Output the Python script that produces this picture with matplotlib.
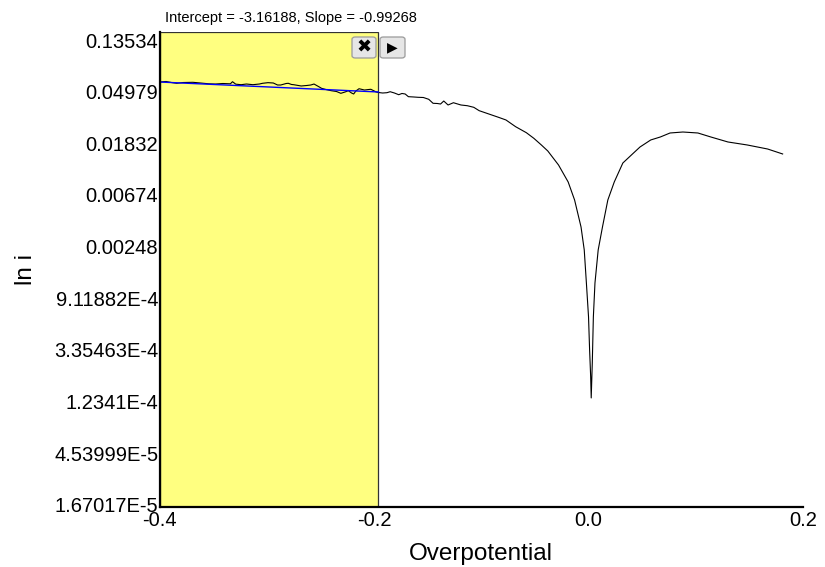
import matplotlib
matplotlib.use("Agg")
import matplotlib.pyplot as plt
from matplotlib.patches import FancyBboxPatch

plt.rcParams['font.family'] = ['Liberation Sans', 'DejaVu Sans']

eta = [-0.400, -0.394, -0.389, -0.384, -0.378, -0.369, -0.362, -0.354, -0.348, -0.341,
       -0.334, -0.332, -0.329, -0.324, -0.319, -0.313, -0.307, -0.304, -0.299, -0.294,
       -0.290, -0.287, -0.282, -0.280, -0.277, -0.275, -0.268, -0.263, -0.259, -0.256,
       -0.251, -0.249, -0.245, -0.240, -0.235, -0.231, -0.227, -0.224, -0.221, -0.219,
       -0.217, -0.214, -0.209, -0.205, -0.203, -0.198, -0.196,
       -0.192, -0.188, -0.185, -0.181, -0.177, -0.174, -0.171, -0.168, -0.163, -0.159,
       -0.154, -0.149, -0.145, -0.141, -0.138, -0.135, -0.131, -0.126, -0.119, -0.113,
       -0.107, -0.102, -0.093, -0.084, -0.077, -0.068, -0.058, -0.051, -0.044, -0.038,
       -0.028, -0.019, -0.013, -0.007, -0.004, -0.002, 0.000, 0.001, 0.002, 0.0025,
       0.0035, 0.0045, 0.006, 0.009, 0.013, 0.018, 0.024, 0.032, 0.041, 0.048,
       0.058, 0.067, 0.076, 0.088, 0.102, 0.114, 0.130, 0.148, 0.167, 0.181]
ln_i = [-2.813, -2.803, -2.823, -2.838, -2.823, -2.819, -2.832, -2.848, -2.852, -2.842,
        -2.848, -2.807, -2.855, -2.865, -2.852, -2.865, -2.852, -2.838, -2.826, -2.832,
        -2.871, -2.871, -2.842, -2.838, -2.861, -2.865, -2.890, -2.881, -2.871, -2.852,
        -2.910, -2.935, -2.958, -2.981, -2.997, -3.032, -3.006, -2.981, -3.026, -3.045,
        -2.987, -2.943, -2.968, -2.958, -2.954, -3.006, -3.016,
        -3.026, -3.020, -3.001, -3.026, -3.059, -3.035, -3.045, -3.097, -3.103, -3.109,
        -3.113, -3.148, -3.225, -3.229, -3.239, -3.181, -3.258, -3.214, -3.258, -3.272,
        -3.303, -3.368, -3.432, -3.496, -3.548, -3.678, -3.794, -3.903, -4.032, -4.148,
        -4.419, -4.748, -5.097, -5.619, -6.064, -6.703, -7.361, -8.000, -8.522, -8.929,
        -8.251, -7.361, -6.703, -6.064, -5.619, -5.097, -4.748, -4.381, -4.206, -4.071,
        -3.935, -3.877, -3.800, -3.781, -3.800, -3.877, -3.974, -4.032, -4.110, -4.206]

# linear fit drawn over the selected range
fit_eta = [-0.400, -0.196]
fit_ln = [-2.813, -3.006]
sel_range = [-0.400, -0.196]

y_ticks = [-2, -3, -4, -5, -6, -7, -8, -9, -10, -11]
y_labels = ["0.13534", "0.04979", "0.01832", "0.00674", "0.00248",
            "9.11882E-4", "3.35463E-4", "1.2341E-4", "4.53999E-5", "1.67017E-5"]
x_ticks = [-0.4, -0.2, 0.0, 0.2]
x_labels = ["-0.4", "-0.2", "0.0", "0.2"]

fig = plt.figure(figsize=(8.25, 5.67), dpi=100)
ax = fig.add_axes([159.6 / 825, 1 - 507 / 567, 643.4 / 825, 475 / 567])

ax.axvspan(sel_range[0], sel_range[1], facecolor='#ffff80', edgecolor='#333333', lw=0.9, zorder=1)
ax.plot(eta, ln_i, color='black', lw=0.8, zorder=3)
ax.plot(fit_eta, fit_ln, color='#0000ff', lw=1.0, zorder=4)

ax.set_xlim(-0.4, 0.2)
ax.set_ylim(-11.04, -1.845)
ax.set_xticks(x_ticks)
ax.set_xticklabels(x_labels)
ax.set_yticks(y_ticks)
ax.set_yticklabels(y_labels)
ax.tick_params(length=0, labelsize=14.5, colors='black')
ax.tick_params(axis='y', pad=1)
ax.tick_params(axis='x', pad=3)

for s in ['top', 'right']:
    ax.spines[s].set_visible(False)
for s in ['left', 'bottom']:
    ax.spines[s].set_linewidth(1.6)
    ax.spines[s].set_zorder(5)

ax.set_xlabel("Overpotential", fontsize=17.5, labelpad=9)
ax.set_ylabel("ln i", fontsize=17.5, labelpad=12)

fig.text(165 / 825, 1 - 18 / 567, "Intercept = -3.16188, Slope = -0.99268",
         fontsize=10.5, ha='left', va='center')

# the two small buttons at the top of the selection
for (x0, x1), sym, fs in [((352, 376), "\u2716", 13), ((380, 405), "\u25B6", 10)]:
    box = FancyBboxPatch((x0 / 825, 1 - 58 / 567), (x1 - x0) / 825, 21 / 567,
                         boxstyle="round,pad=0,rounding_size=0.004",
                         transform=fig.transFigure, facecolor='#e6e6e6',
                         edgecolor='#9a9a9a', lw=0.9, zorder=10)
    fig.patches.append(box)
    fig.text((x0 + x1) / 2 / 825, 1 - 47.5 / 567, sym, fontsize=fs,
             family='DejaVu Sans', ha='center', va='center', zorder=11)

fig.savefig("out.png", dpi=100)
